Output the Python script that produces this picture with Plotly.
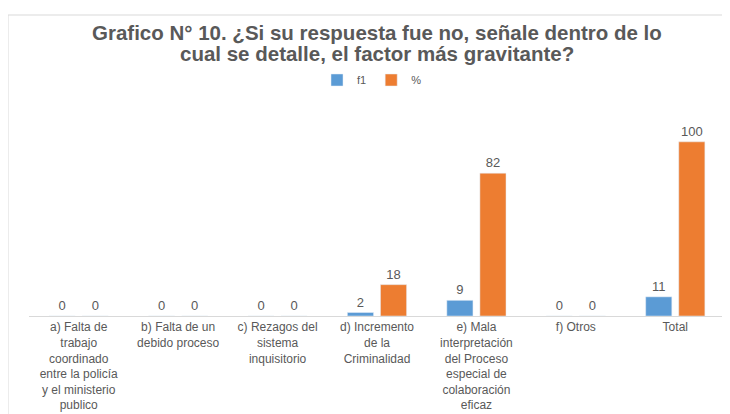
import plotly.graph_objects as go

categories = [
    "a) Falta de<br>trabajo<br>coordinado<br>entre la policía<br>y el ministerio<br>publico",
    "b) Falta de un<br>debido proceso",
    "c) Rezagos del<br>sistema<br>inquisitorio",
    "d) Incremento<br>de la<br>Criminalidad",
    "e) Mala<br>interpretación<br>del Proceso<br>especial de<br>colaboración<br>eficaz",
    "f) Otros",
    "Total",
]
f1_values = [0, 0, 0, 2, 9, 0, 11]
pct_values = [0, 0, 0, 18, 82, 0, 100]
title_lines = [
    "Grafico N° 10. ¿Si su respuesta fue no, señale dentro de lo",
    "cual se detalle, el factor más gravitante?",
]

FONT = "Liberation Sans, Arial, sans-serif"
GRAY = "#595959"

fig = go.Figure()
fig.add_trace(go.Bar(name="f1", x=categories, y=f1_values, marker_color="#5B9BD5",
                     text=f1_values, textposition="outside", cliponaxis=False,
                     textfont=dict(color=GRAY, size=13, family=FONT)))
fig.add_trace(go.Bar(name="%", x=categories, y=pct_values, marker_color="#ED7D31",
                     text=pct_values, textposition="outside", cliponaxis=False,
                     textfont=dict(color=GRAY, size=13, family=FONT)))

# target plot area on screen: x 29..725, y 107..316 (page has 8px body margin)
annotations = [
    dict(text="<b>%s</b>" % title_lines[0], xref="paper", yref="paper", x=0.5, y=(316 - 32) / 209,
         xanchor="center", yanchor="middle", showarrow=False,
         font=dict(family=FONT, size=20.5, color=GRAY)),
    dict(text="<b>%s</b>" % title_lines[1], xref="paper", yref="paper", x=0.5, y=(316 - 53) / 209,
         xanchor="center", yanchor="middle", showarrow=False,
         font=dict(family=FONT, size=20.5, color=GRAY)),
]

fig.update_layout(
    width=730, height=414,
    paper_bgcolor="white", plot_bgcolor="white",
    margin=dict(l=21, r=13, t=99, b=106, autoexpand=False),
    barmode="group", bargap=0.335, bargroupgap=0.21,
    annotations=annotations,
    legend=dict(orientation="h", x=(372 - 29) / 696, xanchor="center", y=(316 - 80) / 209,
                yanchor="middle",
                font=dict(family=FONT, size=11, color=GRAY), itemwidth=30,
                traceorder="normal"),
    showlegend=True,
    xaxis=dict(showline=True, linecolor="#D9D9D9", linewidth=1, ticks="", automargin=False,
               tickfont=dict(family=FONT, size=12, color=GRAY), tickangle=0),
    yaxis=dict(range=[0, 120], visible=False, showgrid=False, zeroline=False, automargin=False),
    shapes=[dict(type="rect", xref="paper", yref="paper", x0=(8 - 29) / 696, x1=1.1, y0=-0.6,
                 y1=(316 - 15) / 209,
                 line=dict(color="#D9D9D9", width=1), fillcolor="rgba(0,0,0,0)")],
)

fig.write_html("out.html")
